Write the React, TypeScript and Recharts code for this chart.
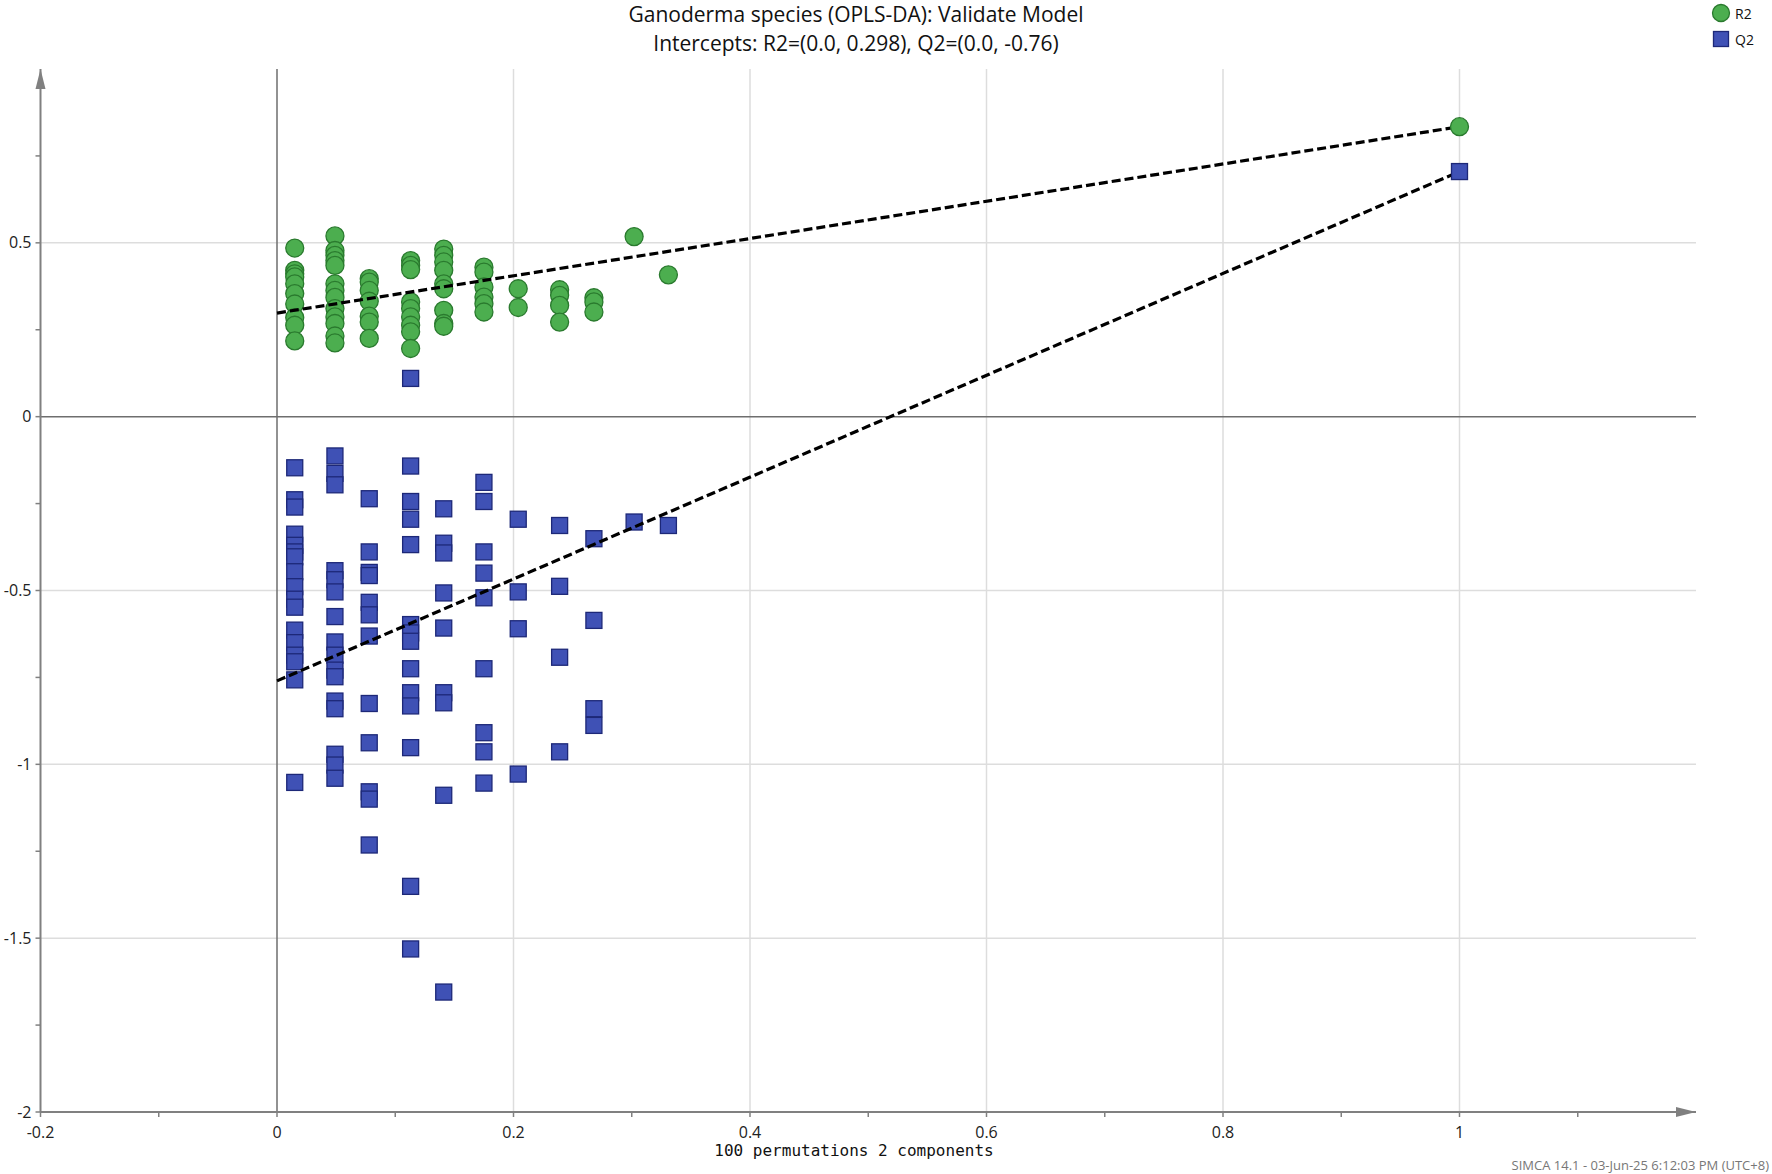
import React from 'react';
import {
  ScatterChart,
  Scatter,
  XAxis,
  YAxis,
  CartesianGrid,
  ReferenceLine,
  ReferenceDot,
} from 'recharts';

// ---------------- data ----------------
// x position (correlation) of each permutation column
const PERM_X = [0.015, 0.049, 0.078, 0.113, 0.141, 0.175, 0.204, 0.239, 0.268, 0.302, 0.331];

// R2 values of permuted models, per column
const R2_COLS = [
  [0.485, 0.421, 0.411, 0.402, 0.382, 0.354, 0.324, 0.285, 0.263, 0.218],
  [0.52, 0.478, 0.464, 0.449, 0.435, 0.382, 0.363, 0.343, 0.311, 0.287, 0.268, 0.232, 0.212],
  [0.397, 0.387, 0.363, 0.332, 0.289, 0.272, 0.225],
  [0.449, 0.435, 0.423, 0.33, 0.311, 0.287, 0.263, 0.244, 0.196],
  [0.482, 0.464, 0.445, 0.421, 0.382, 0.368, 0.306, 0.268, 0.26],
  [0.43, 0.416, 0.373, 0.344, 0.325, 0.301],
  [0.368, 0.314],
  [0.365, 0.349, 0.32, 0.272],
  [0.342, 0.33, 0.301],
  [0.518],
  [0.408],
];

// Q2 values of permuted models, per column
const Q2_COLS = [
  [-0.147, -0.239, -0.26, -0.338, -0.37, -0.389, -0.403, -0.446, -0.489, -0.525, -0.548, -0.614, -0.65, -0.686, -0.705, -0.757, -1.052],
  [-0.113, -0.163, -0.196, -0.443, -0.469, -0.504, -0.575, -0.648, -0.686, -0.729, -0.748, -0.818, -0.84, -0.971, -1.002, -1.04],
  [-0.236, -0.389, -0.448, -0.457, -0.534, -0.57, -0.631, -0.825, -0.938, -1.079, -1.1, -1.232],
  [0.11, -0.142, -0.244, -0.295, -0.368, -0.598, -0.622, -0.646, -0.725, -0.794, -0.832, -0.952, -1.351, -1.531],
  [-0.265, -0.364, -0.392, -0.507, -0.608, -0.794, -0.823, -1.089, -1.655],
  [-0.189, -0.244, -0.389, -0.45, -0.521, -0.725, -0.909, -0.964, -1.054],
  [-0.295, -0.504, -0.61, -1.028],
  [-0.313, -0.488, -0.692, -0.964],
  [-0.351, -0.586, -0.84, -0.888],
  [-0.303],
  [-0.313],
];

// original (non-permuted) model
const ORIGINAL_X = 1;
const ORIGINAL_R2 = 0.834;
const ORIGINAL_Q2 = 0.705;

// regression intercepts
const R2_INTERCEPT = 0.298;
const Q2_INTERCEPT = -0.76;

// axes
const X_DOMAIN = [-0.2, 1.2];
const Y_DOMAIN = [-2, 1];
const X_TICKS = [-0.2, -0.1, 0, 0.1, 0.2, 0.3, 0.4, 0.5, 0.6, 0.7, 0.8, 0.9, 1, 1.1];
const X_TICK_LABELS = ['-0.2', '', '0', '', '0.2', '', '0.4', '', '0.6', '', '0.8', '', '1', ''];
const Y_TICKS = [0.75, 0.5, 0.25, 0, -0.25, -0.5, -0.75, -1, -1.25, -1.5, -1.75, -2];
const Y_TICK_LABELS = ['', '0.5', '', '0', '', '-0.5', '', '-1', '', '-1.5', '', '-2'];
const X_GRID = [0.2, 0.4, 0.6, 0.8, 1];
const Y_GRID = [0.5, -0.5, -1, -1.5];

const TITLE_1 = 'Ganoderma species (OPLS-DA): Validate Model';
const TITLE_2 = `Intercepts: R2=(0.0, ${R2_INTERCEPT}), Q2=(0.0, ${Q2_INTERCEPT})`;
const X_LABEL = '100 permutations 2 components';
const FOOTER = 'SIMCA 14.1 - 03-Jun-25 6:12:03 PM (UTC+8)';

// ---------------- derived tables ----------------
const r2Perm = R2_COLS.flatMap((col, i) => col.map((v) => ({ x: PERM_X[i], y: v })));
const q2Perm = Q2_COLS.flatMap((col, i) => col.map((v) => ({ x: PERM_X[i], y: v })));
const r2Orig = [{ x: ORIGINAL_X, y: ORIGINAL_R2 }];
const q2Orig = [{ x: ORIGINAL_X, y: ORIGINAL_Q2 }];
const r2Line = [
  { x: 0, y: R2_INTERCEPT },
  { x: ORIGINAL_X, y: ORIGINAL_R2 },
];
const q2Line = [
  { x: 0, y: Q2_INTERCEPT },
  { x: ORIGINAL_X, y: ORIGINAL_Q2 },
];

// ---------------- styles ----------------
const FONT = '"Open Sans", "Noto Sans", sans-serif';
const AXIS_COLOR = '#808080';
const GREEN = '#4cae4f';
const GREEN_EDGE = '#2a7a2e';
const BLUE = '#3f51b5';
const BLUE_EDGE = '#1d2878';
const DASH = { stroke: '#000', strokeWidth: 3.2, strokeDasharray: '9 4' };

const W = 1772;
const H = 1174;

const Circle = (p: any) => (
  <circle cx={p.cx} cy={p.cy} r={9} fill={GREEN} stroke={GREEN_EDGE} strokeWidth={1.3} />
);
const Square = (p: any) => (
  <rect x={p.cx - 8} y={p.cy - 8} width={16} height={16} fill={BLUE} stroke={BLUE_EDGE} strokeWidth={1.3} />
);
const Nothing = () => <g />;

const XTick = (p: any) => {
  const idx = X_TICKS.findIndex((t) => Math.abs(t - p.payload.value) < 1e-9);
  const label = idx >= 0 ? X_TICK_LABELS[idx] : '';
  return (
    <g>
      <line x1={p.x} x2={p.x} y1={p.y} y2={p.y + 5} stroke={AXIS_COLOR} strokeWidth={1.5} />
      {label && (
        <text x={p.x} y={p.y + 26} textAnchor="middle" fontFamily={FONT} fontSize={16} fill="#222">
          {label}
        </text>
      )}
    </g>
  );
};

const YTick = (p: any) => {
  const idx = Y_TICKS.findIndex((t) => Math.abs(t - p.payload.value) < 1e-9);
  const label = idx >= 0 ? Y_TICK_LABELS[idx] : '';
  return (
    <g>
      <line x1={p.x - 5} x2={p.x} y1={p.y} y2={p.y} stroke={AXIS_COLOR} strokeWidth={1.5} />
      {label && (
        <text x={p.x - 9} y={p.y + 5.5} textAnchor="end" fontFamily={FONT} fontSize={16} fill="#222">
          {label}
        </text>
      )}
    </g>
  );
};

const UpArrow = (p: any) => (
  <polygon points={`${p.cx},${p.cy} ${p.cx - 5},${p.cy + 20} ${p.cx + 5},${p.cy + 20}`} fill={AXIS_COLOR} />
);
const RightArrow = (p: any) => (
  <polygon points={`${p.cx},${p.cy} ${p.cx - 20},${p.cy - 5} ${p.cx - 20},${p.cy + 5}`} fill={AXIS_COLOR} />
);

export default function App() {
  return (
    <div style={{ position: 'relative', width: W, height: H, background: '#fff', fontFamily: FONT }}>
      <style>{'body{margin:0;}'}</style>
      <ScatterChart width={W} height={H} margin={{ top: 69, right: 76, bottom: 0, left: 0 }}>
        <CartesianGrid
          horizontal
          vertical
          horizontalValues={Y_GRID}
          verticalValues={X_GRID}
          stroke="#dddddd"
          strokeWidth={1.5}
        />
        <XAxis
          type="number"
          dataKey="x"
          domain={X_DOMAIN}
          ticks={X_TICKS}
          interval={0}
          height={62}
          tickSize={0}
          tickMargin={0}
          tick={<XTick />}
          axisLine={{ stroke: AXIS_COLOR, strokeWidth: 2 }}
          allowDataOverflow
        />
        <YAxis
          type="number"
          dataKey="y"
          domain={Y_DOMAIN}
          ticks={Y_TICKS}
          interval={0}
          width={40.5}
          tickSize={0}
          tickMargin={0}
          tick={<YTick />}
          axisLine={{ stroke: AXIS_COLOR, strokeWidth: 2 }}
          allowDataOverflow
        />
        <ReferenceLine x={0} stroke="#6e6e6e" strokeWidth={1.5} />
        <ReferenceLine y={0} stroke="#6e6e6e" strokeWidth={1.5} />
        <ReferenceDot x={X_DOMAIN[0]} y={Y_DOMAIN[1]} ifOverflow="visible" shape={<UpArrow />} />
        <ReferenceDot x={X_DOMAIN[1]} y={Y_DOMAIN[0]} ifOverflow="visible" shape={<RightArrow />} />
        <Scatter name="R2" data={r2Perm} shape={<Circle />} isAnimationActive={false} />
        <Scatter name="Q2" data={q2Perm} shape={<Square />} isAnimationActive={false} />
        <Scatter data={r2Line} shape={<Nothing />} line={DASH} isAnimationActive={false} />
        <Scatter data={q2Line} shape={<Nothing />} line={DASH} isAnimationActive={false} />
        <Scatter data={r2Orig} shape={<Circle />} isAnimationActive={false} />
        <Scatter data={q2Orig} shape={<Square />} isAnimationActive={false} />
      </ScatterChart>

      {/* title */}
      <div
        style={{
          position: 'absolute',
          left: 856 - 400,
          width: 800,
          top: 0,
          textAlign: 'center',
          fontSize: 21,
          lineHeight: '29px',
          color: '#111',
        }}
      >
        <div>{TITLE_1}</div>
        <div>{TITLE_2}</div>
      </div>

      {/* legend */}
      <div style={{ position: 'absolute', left: 1711, top: 3, fontSize: 14, color: '#111' }}>
        <div style={{ display: 'flex', alignItems: 'center', height: 20 }}>
          <svg width={20} height={20}>
            <circle cx={10} cy={10} r={8.5} fill={GREEN} stroke={GREEN_EDGE} strokeWidth={1.3} />
          </svg>
          <span style={{ marginLeft: 4 }}>R2</span>
        </div>
        <div style={{ display: 'flex', alignItems: 'center', height: 20, marginTop: 6 }}>
          <svg width={20} height={20}>
            <rect x={2.5} y={2.5} width={15} height={15} fill={BLUE} stroke={BLUE_EDGE} strokeWidth={1.3} />
          </svg>
          <span style={{ marginLeft: 4 }}>Q2</span>
        </div>
      </div>

      {/* x axis label */}
      <div
        style={{
          position: 'absolute',
          left: 854 - 300,
          width: 600,
          top: 1141,
          textAlign: 'center',
          fontFamily: '"DejaVu Sans Mono", "Liberation Mono", monospace',
          fontSize: 16,
          lineHeight: '20px',
          color: '#111',
        }}
      >
        {X_LABEL}
      </div>

      {/* footer */}
      <div
        style={{
          position: 'absolute',
          right: W - 1769,
          top: 1156,
          fontSize: 13,
          lineHeight: '18px',
          color: '#777',
          whiteSpace: 'nowrap',
        }}
      >
        {FOOTER}
      </div>
    </div>
  );
}
